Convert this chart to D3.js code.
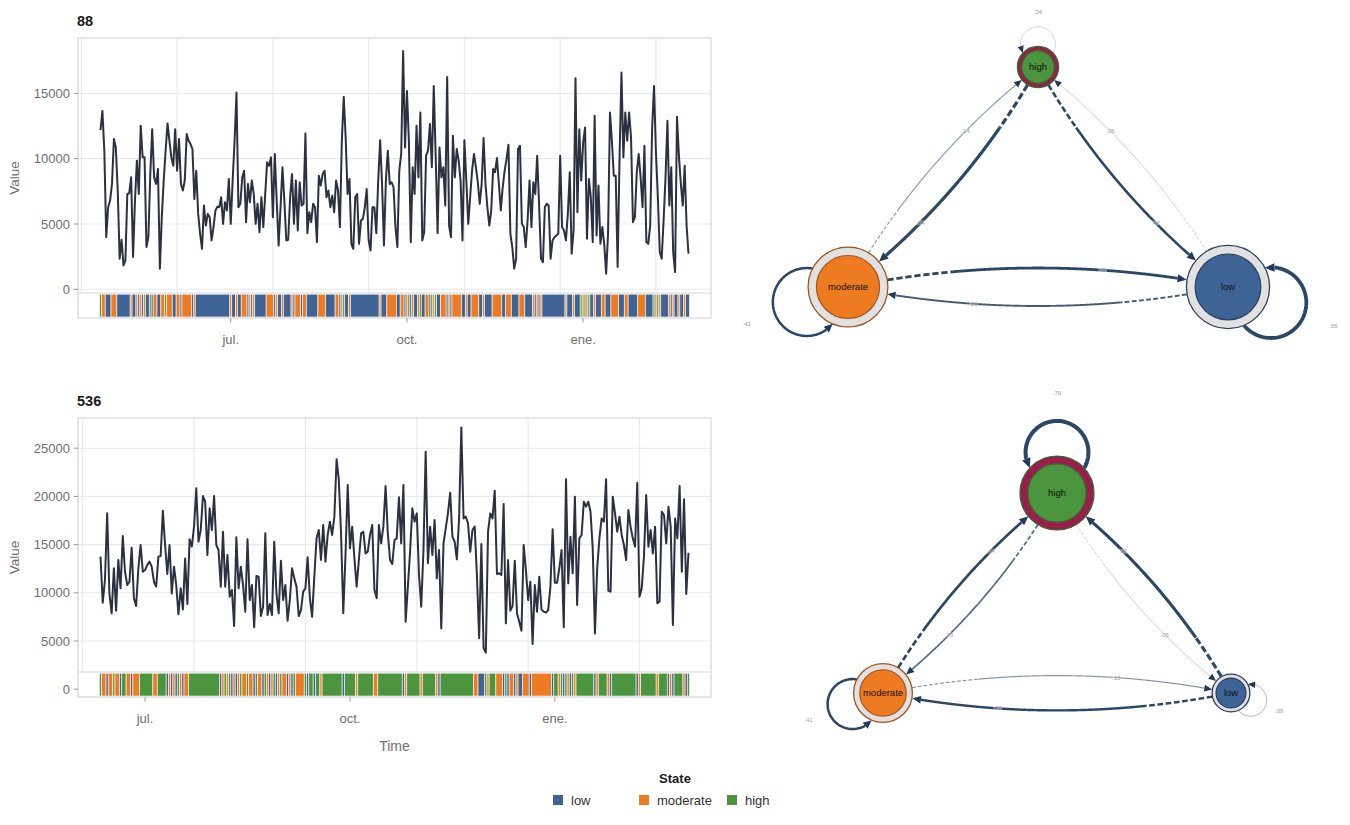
<!DOCTYPE html>
<html><head><meta charset="utf-8">
<script src="https://d3js.org/d3.v7.min.js"></script>
<style>body{margin:0;background:#fff;} svg{display:block;font-family:"Liberation Sans",Arial,Helvetica,sans-serif;}</style>
</head><body><svg id="chart" width="1350" height="825"></svg>
<script>
// ================= DATA =================
const stateNames = ["low", "moderate", "high"];
const monthsES = ["ene.","feb.","mar.","abr.","may.","jun.","jul.","ago.","sept.","oct.","nov.","dic."];
const legendTitle = "State";
const xTitle = "Time";
const yTitle = "Value";

// series "88"
const title88 = "88";
const start88 = "2019-04-24";
const values88 = [
12190,13660,10610,3990,6280,6790,8070,11500,10860,7560,
2340,3790,1830,2210,7300,7350,8570,2470,6790,9850,
7300,12520,10100,10100,3230,3990,8830,12260,8570,8070,
9210,1580,5520,8320,10610,12700,11370,10100,9460,12260,
9080,11500,8070,7560,8320,11880,11370,11120,10740,6920,
9080,5770,4250,3100,6410,4880,5770,5520,3740,4760,
6030,6330,6280,7050,5010,6670,6030,8450,5010,8320,
11370,15060,6280,6540,8570,9080,5140,8070,6670,8320,
7300,5010,6540,4370,7050,4760,7300,9720,9460,10100,
5520,10360,6790,3360,6280,9340,6790,3740,3790,7050,
8830,5010,8320,4500,8190,6410,6540,11930,4300,5900,
5140,6540,6280,3610,8700,7940,8830,9080,7050,7560,
6280,7170,5900,8320,7560,4760,11370,14730,11630,7300,
8450,3480,3100,7050,7300,3480,5270,5390,6280,7680,
3740,2970,6280,6280,4300,8320,11420,8070,3360,8320,
10610,8070,8190,7810,4760,3230,9080,10360,18240,10860,
15190,11370,3610,9340,7300,12520,8570,13540,3740,4370,
10230,10610,12650,9340,15570,10230,4300,10860,8570,9340,
6410,16260,4880,3990,11760,8570,10740,9850,8320,3740,
11420,8320,5010,7050,9080,10360,9340,8190,6540,8070,
11580,8070,6280,4880,6030,9210,8960,10050,8070,6030,
7810,9080,9970,11070,4250,3230,1580,2340,10740,10990,
5010,4760,3230,5270,8320,4760,8190,7300,10230,6410,
2340,2080,6280,6540,6410,2340,3740,3990,4120,4250,
10230,4760,4500,3740,5770,8960,2720,4500,16160,5900,
12260,8320,11250,12390,3870,8450,7050,3610,13280,4120,
7940,3480,4760,3480,1190,4250,13540,11370,8700,8700,
1700,10100,16590,10100,13540,11370,13540,11630,5140,5520,
8960,10360,8570,6280,10990,3610,3480,4880,12260,15570,
10480,7050,2850,2340,5270,8570,12900,6410,9340,2850,
1320,13210,10230,8070,6410,9460,4880,2720
];
// daily hidden state, run-length coded: L=low, M=moderate, H=high
const states88 = "H1 M2 L3 M3 L7 M1 L2 M1 L1 M1 L1 M1 L2 H1 L1 M2 L2 M2 H1 M3 L2 M2 L1 M5 L1 M1 L18 " +
 "M1 L2 M1 L2 M3 L1 M1 L1 M1 L6 M4 L1 M1 L2 M1 L4 M1 L1 M3 L1 M2 L6 M4 L5 M2 L1 M1 H1 L2 M1 L15 " +
 "M1 L3 M5 L2 M2 L1 M1 H1 L1 M1 L2 M1 H1 L2 M2 L1 H1 M1 H1 L2 M3 L1 M1 L1 M5 L2 M1 L2 M4 L2 M1 L4 " +
 "M5 L2 M3 L4 M3 L4 M1 L1 M1 L1 M1 L12 M1 L3 M1 L3 H1 M1 H1 M1 H1 L2 M1 L3 M2 L3 M4 L3 M2 L5 M4 L4 " +
 "H1 M1 H1 M1 L4 M1 L1 M1 L2 M1 L2 M1 L2";
const yTicks88 = [0, 5000, 10000, 15000];
const trans88 = [ // rows: from low, moderate, high ; cols: to low, moderate, high
  [0.65, 0.29, 0.06],
  [0.46, 0.41, 0.14],
  [0.42, 0.54, 0.04]
];
const init88 = [0, 0, 1];
const nodeSize88 = [0.99, 0.95, 0.49];

// series "536"
const title536 = "536";
const start536 = "2019-06-11";
const values536 = [
13750,8980,11330,18240,9940,7870,12540,8150,13400,10460,
15890,12190,10810,11150,14680,9430,8630,12540,14960,12190,
12360,12880,13230,12710,11150,10640,13750,13820,18520,14960,
11950,14960,9940,12710,10810,7770,10460,8280,13570,8840,
15550,14790,16860,20840,15300,16510,20040,19450,13920,18760,
16510,20040,14960,14440,10640,16340,10640,13920,9600,10290,
6560,15750,10460,12710,10810,8040,15550,9250,10810,6420,
11740,11670,7590,8560,16170,7700,8840,7700,15300,9940,
7870,13330,9250,10810,7110,9250,12540,11500,10640,7590,
8210,10120,10460,13680,9430,7520,11670,15650,16510,13400,
17030,13230,16000,17380,16000,17900,23850,21700,16170,7870,
13920,21180,14610,16860,13570,10640,13400,16170,16340,14090,
14270,16000,17030,10290,9430,17030,15130,16860,21080,16170,
13400,12990,15480,15650,19900,15130,21180,7000,10640,14270,
18760,17380,18240,11850,8560,14440,24640,13060,16860,13920,
17550,11500,14440,6310,15130,16690,18240,20390,15820,15300,
13470,17720,27160,17720,17900,17210,14270,16510,16860,11850,
5280,15060,4240,3790,16340,18240,17720,20590,11950,12020,
11850,19210,6830,13400,8150,8630,13330,7870,7000,6070,
14960,12360,9250,11150,4690,10810,8040,11670,8280,8040,
7940,8210,10640,16580,11050,11050,12540,14440,6420,21770,
10980,15820,12020,19970,8730,15650,16000,19450,18930,19450,
18420,14610,5790,12540,15650,17720,17380,21770,10220,10120,
19970,18240,16340,17900,16000,14960,13400,18590,16860,15650,
14790,21420,9600,10460,13750,20140,14790,16510,14090,16860,
8910,9080,18420,18070,15130,18930,16860,6660,17720,15650,
21080,12190,19700,9870,14160
];
const states536 = "H1 M2 L1 M2 H1 M2 L1 H2 M2 L1 M3 H6 M2 H4 L1 M1 L1 M1 L1 H1 M1 L1 M2 H14 " +
 "L1 M1 H1 M1 H1 L1 M1 L1 M1 H1 M2 H1 M2 L1 H1 M2 L1 H1 M1 L1 M1 H1 L1 M1 H1 M2 L1 M1 L1 H1 M4 H1 L1 H2 L1 H2 M1 " +
 "H9 L1 H5 M1 H7 M2 H11 L1 M1 H6 M1 H6 M1 L1 H15 M2 L3 H1 M1 H3 M3 L1 H1 L1 M2 L1 M1 L2 M3 L1 M9 " +
 "L1 H2 M1 H1 L1 H1 M1 L1 H1 M1 H8 L1 M1 H4 M1 L1 H11 L1 M1 H7 M1 H4 L1 M1 L1 H4 M1 L1 H1";
const yTicks536 = [0, 5000, 10000, 15000, 20000, 25000];
const trans536 = [
  [0.09, 0.39, 0.52],
  [0.15, 0.41, 0.44],
  [0.06, 0.25, 0.70]
];
const init536 = [0, 0, 1];
const nodeSize536 = [0.45, 0.70, 0.88];

// ================= STYLE / LAYOUT =================
const W = 1350, H = 825;
const FILL = {low: "#3e6496", moderate: "#ee7b22", high: "#4a953d"};
const DARK = {low: "#2b3f5f", moderate: "#a4531a", high: "#2f6b2a"};
const PIE = "#9c1c4b";
const RUNKEY = {L: "low", M: "moderate", H: "high"};
const TXT = "#6e6e6e";
const dayMs = 864e5;
const netLayout = [[1, 0], [-1, 0], [0, 1]];   // low, moderate, high
const loopAngles = [20, 160, -90];

const svg = d3.select("#chart");
svg.append("rect").attr("width", W).attr("height", H).attr("fill", "#fff");

function drawSeries(opt) {
  const g = svg.append("g");
  const X0 = 78, X1 = 711;
  const start = new Date(opt.start + "T00:00:00Z");
  const dates = opt.values.map((v, i) => new Date(+start + i * dayMs));
  const x = d3.scaleUtc().domain([dates[0], dates[dates.length - 1]]).range([X0 + 22.5, X1 - 22.5]);
  const y = d3.scaleLinear().domain(opt.yDomain).range([opt.bottom, opt.top]);
  const ySep = opt.sep;

  g.append("text").attr("x", 77).attr("y", opt.top - 12).text(opt.title)
    .attr("font-weight", "bold").attr("font-size", 14.5).attr("fill", "#1a1a1a");

  const grid = g.append("g").attr("stroke", "#e8e9ec").attr("stroke-width", 1.1);
  opt.yTicks.forEach(t => {
    const yy = y(t);
    if (yy < ySep - 0.5) grid.append("line").attr("x1", X0).attr("x2", X1).attr("y1", yy).attr("y2", yy);
  });
  const eL = Math.ceil(+x.invert(X0) / dayMs / 50) * 50, eR = Math.floor(+x.invert(X1) / dayMs / 50) * 50;
  for (let e = eL; e <= eR; e += 50) {
    const xx = x(new Date(e * dayMs));
    grid.append("line").attr("x1", xx).attr("x2", xx).attr("y1", opt.top).attr("y2", ySep);
  }

  g.append("path").datum(opt.values).attr("fill", "none").attr("stroke", "#2c3142")
    .attr("stroke-width", 2).attr("stroke-linejoin", "round")
    .attr("d", d3.line().x((d, i) => x(dates[i])).y(d => y(d)));

  let day = 0; const runs = [];
  opt.runs.trim().split(/\s+/).forEach(tok => {
    const n = +tok.slice(1);
    runs.push({state: RUNKEY[tok[0]], a: day, b: day + n - 1});
    day += n;
  });
  const xd = d => x(new Date(+start + d * dayMs));
  g.append("g").selectAll("rect").data(runs).join("rect")
    .attr("x", d => xd(d.a - 0.5)).attr("width", d => xd(d.b + 0.5) - xd(d.a - 0.5))
    .attr("y", ySep + 1.2).attr("height", opt.bottom - ySep - 2.2)
    .attr("fill", d => FILL[d.state]).attr("stroke", "#ffffff")
    .attr("stroke-opacity", 0.75).attr("stroke-width", 0.8);

  g.append("rect").attr("x", X0).attr("y", opt.top).attr("width", X1 - X0).attr("height", opt.bottom - opt.top)
    .attr("fill", "none").attr("stroke", "#d4d6da").attr("stroke-width", 1.2);
  g.append("line").attr("x1", X0).attr("x2", X1).attr("y1", ySep).attr("y2", ySep)
    .attr("stroke", "#d4d6da").attr("stroke-width", 1.2);

  // y axis
  const ya = g.append("g");
  opt.yTicks.forEach(t => {
    const yy = y(t);
    ya.append("line").attr("x1", X0 - 4.5).attr("x2", X0).attr("y1", yy).attr("y2", yy).attr("stroke", "#9a9a9a");
    ya.append("text").attr("x", X0 - 8).attr("y", yy).attr("dy", "0.36em").attr("text-anchor", "end")
      .attr("font-size", 13).attr("fill", TXT).text(t);
  });
  g.append("text").attr("transform", `translate(19,${(opt.top + opt.bottom) / 2}) rotate(-90)`)
    .attr("text-anchor", "middle").attr("font-size", 13.5).attr("fill", TXT).text(yTitle);

  // x axis
  const ticks = d3.utcMonth.every(3).range(x.invert(X0), x.invert(X1));
  ticks.forEach(t => {
    const xx = x(t);
    g.append("line").attr("x1", xx).attr("x2", xx).attr("y1", opt.bottom).attr("y2", opt.bottom + 4.5).attr("stroke", "#9a9a9a");
    g.append("text").attr("x", xx).attr("y", opt.bottom + 26).attr("text-anchor", "middle")
      .attr("font-size", 13).attr("fill", TXT).text(monthsES[t.getUTCMonth()]);
  });
  if (opt.showTitle) {
    g.append("text").attr("x", (X0 + X1) / 2).attr("y", opt.bottom + 54).attr("text-anchor", "middle")
      .attr("font-size", 14).attr("fill", TXT).text(xTitle);
  }
}

function drawNetwork(opt) {
  const g = svg.append("g");
  const sx = d3.scaleLinear().domain([-1, 1]).range(opt.xRange);
  const sy = d3.scaleLinear().domain([0, 1]).range(opt.yRange);
  const sr = d3.scaleLinear().domain([0, 1]).range([0, 42]);
  const nodes = stateNames.map((s, i) => ({
    name: s, i, x: sx(netLayout[i][0]), y: sy(netLayout[i][1]), r: sr(opt.sizes[i]),
    p: opt.init[i], th: loopAngles[i] * Math.PI / 180
  }));
  const wid = w => 0.4 + 5.2 * w;
  const op = w => Math.min(1, 0.25 + 2.2 * w);
  const alen = w => 7 + 4 * w;
  const ECOL = "#2a4766", ACOL = "#1f3a5a";
  const edgeG = g.append("g"), arrowG = g.append("g"), nodeG = g.append("g"), labG = g.append("g");
  const fmt = v => d3.format(".2f")(v).replace(/^0/, "");
  const line = d3.line();

  function arrow(tip, base, w) {
    const dx = tip[0] - base[0], dy = tip[1] - base[1], L = Math.hypot(dx, dy);
    const px = -dy / L, py = dx / L, hw = alen(w) * 0.45;
    arrowG.append("path").attr("fill", ACOL)
      .attr("d", `M${tip[0]},${tip[1]}L${base[0] + px * hw},${base[1] + py * hw}L${base[0] - px * hw},${base[1] - py * hw}Z`);
  }
  function label(p, text) {
    const t = labG.append("g").attr("transform", `translate(${p[0]},${p[1]})`);
    t.append("rect").attr("x", -4.5).attr("y", -2.5).attr("width", 9).attr("height", 5).attr("fill", "#fff").attr("opacity", 0.3);
    t.append("text").attr("text-anchor", "middle").attr("dy", "0.35em").attr("font-size", 6)
      .attr("fill", "#999").text(text);
  }

  function drawEdge(a, b, w) {
    const dx = b.x - a.x, dy = b.y - a.y, L = Math.hypot(dx, dy);
    const side = ((a.name === "low" && b.name === "high") || (a.name === "high" && b.name === "low")) ? -1 : 1;
    const nx = dy / L, ny = -dx / L;
    const c = [(a.x + b.x) / 2 + side * 0.1 * L * nx, (a.y + b.y) / 2 + side * 0.1 * L * ny];
    const B = t => { const u = 1 - t; return [u * u * a.x + 2 * u * t * c[0] + t * t * b.x, u * u * a.y + 2 * u * t * c[1] + t * t * b.y]; };
    const N = 800, pts = d3.range(N + 1).map(k => B(k / N));
    const i0 = pts.findIndex(p => Math.hypot(p[0] - a.x, p[1] - a.y) >= a.r);
    let i1 = N; while (i1 > 0 && Math.hypot(pts[i1][0] - b.x, pts[i1][1] - b.y) < b.r) i1--;
    const tip = pts[i1], al = alen(w);
    let ib = i1; while (ib > i0 && Math.hypot(pts[ib][0] - tip[0], pts[ib][1] - tip[1]) < al) ib--;
    const seg = pts.slice(i0, ib + 1);
    const cum = [0];
    for (let k = 1; k < seg.length; k++) cum.push(cum[k - 1] + Math.hypot(seg[k][0] - seg[k - 1][0], seg[k][1] - seg[k - 1][1]));
    const total = cum[cum.length - 1] + al;
    let kd = cum.findIndex(v => v >= 0.22 * total); if (kd < 1) kd = 1;
    const sw = wid(w);
    edgeG.append("path").attr("d", line(seg.slice(0, kd + 1))).attr("fill", "none").attr("stroke", ECOL)
      .attr("stroke-opacity", op(w)).attr("stroke-width", sw)
      .attr("stroke-dasharray", `${1.8 + 1.6 * sw} ${1.4 + 0.5 * sw}`);
    edgeG.append("path").attr("d", line(seg.slice(kd))).attr("fill", "none").attr("stroke", ECOL)
      .attr("stroke-opacity", op(w)).attr("stroke-width", sw);
    arrow(tip, pts[ib], w);
    label(B(0.67), fmt(w));
  }

  function drawLoop(a, w) {
    const d = 1.1 * a.r, rho = 0.85 * a.r;
    const lc = [a.x + d * Math.cos(a.th), a.y + d * Math.sin(a.th)];
    const beta = a.th + Math.PI;
    const phi = Math.acos((d * d + rho * rho - a.r * a.r) / (2 * d * rho));
    const s = beta - phi, e = beta + phi - 2 * Math.PI;
    const al = alen(w), dA = 2 * Math.asin(Math.min(1, al / (2 * rho)));
    const eb = e + dA;
    const P = ang => [lc[0] + rho * Math.cos(ang), lc[1] + rho * Math.sin(ang)];
    const pts = d3.range(0, 81).map(k => P(s + (eb - s) * k / 80));
    edgeG.append("path").attr("d", line(pts)).attr("fill", "none").attr("stroke", ECOL)
      .attr("stroke-opacity", op(w)).attr("stroke-width", wid(w));
    arrow(P(e), P(eb), w);
    label([a.x + 2.7 * a.r * Math.cos(a.th), a.y + 2.7 * a.r * Math.sin(a.th)], fmt(w));
  }

  opt.trans.forEach((row, i) => row.forEach((w, j) => {
    if (i === j) drawLoop(nodes[i], w); else drawEdge(nodes[i], nodes[j], w);
  }));

  nodes.forEach(n => {
    const gg = nodeG.append("g").attr("transform", `translate(${n.x},${n.y})`);
    gg.append("circle").attr("r", n.r).attr("fill", "#e1e1e1");
    if (n.p > 0) {
      const arc = d3.arc().innerRadius(0.79 * n.r).outerRadius(n.r).startAngle(0).endAngle(2 * Math.PI * n.p);
      gg.append("path").attr("d", arc({})).attr("fill", PIE);
    }
    gg.append("circle").attr("r", n.r).attr("fill", "none").attr("stroke", DARK[n.name]).attr("stroke-width", 1.3);
    gg.append("circle").attr("r", 0.79 * n.r).attr("fill", FILL[n.name]).attr("stroke", DARK[n.name]).attr("stroke-width", 1.2);
    gg.append("text").attr("text-anchor", "middle").attr("dy", "0.35em").attr("font-size", 9.5)
      .attr("fill", "#111").text(n.name);
  });
}

drawSeries({title: title88, start: start88, values: values88, runs: states88, yTicks: yTicks88,
  top: 38, sep: 293, bottom: 318, yDomain: [-2200, 19240], showTitle: false});
drawSeries({title: title536, start: start536, values: values536, runs: states536, yTicks: yTicks536,
  top: 418, sep: 672, bottom: 697, yDomain: [-809, 28133], showTitle: true});

drawNetwork({trans: trans88, init: init88, sizes: nodeSize88, xRange: [848, 1228], yRange: [287, 67]});
drawNetwork({trans: trans536, init: init536, sizes: nodeSize536, xRange: [883, 1231], yRange: [693, 493]});

// legend
const lg = svg.append("g");
lg.append("text").attr("x", 675).attr("y", 783).attr("text-anchor", "middle").attr("font-weight", "bold")
  .attr("font-size", 13).attr("fill", "#1a1a1a").text(legendTitle);
const legX = [553, 639, 727];
stateNames.forEach((s, i) => {
  lg.append("rect").attr("x", legX[i]).attr("y", 795).attr("width", 10).attr("height", 10).attr("fill", FILL[s]);
  lg.append("text").attr("x", legX[i] + 18).attr("y", 804.5).attr("font-size", 13).attr("fill", "#333").text(s);
});
</script></body></html>
